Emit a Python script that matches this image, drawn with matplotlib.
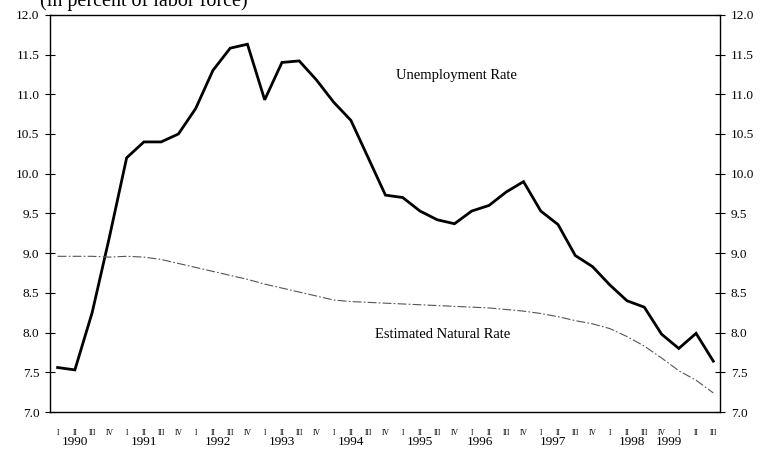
import numpy as np
import matplotlib
matplotlib.use('Agg')
import matplotlib.pyplot as plt

# quarterly data, 1990 Q1 .. 1999 Q3
years = [1990, 1991, 1992, 1993, 1994, 1995, 1996, 1997, 1998, 1999]
quarters = ['I', 'II', 'III', 'IV']
unemployment = [7.56, 7.53, 8.25, 9.2, 10.2, 10.4, 10.4, 10.5,
                10.82, 11.3, 11.58, 11.63, 10.93, 11.4, 11.42, 11.18,
                10.9, 10.67, 10.2, 9.73, 9.7, 9.53, 9.42, 9.37,
                9.53, 9.6, 9.77, 9.9, 9.53, 9.36, 8.97, 8.83,
                8.6, 8.4, 8.32, 7.98, 7.8, 7.99, 7.64]
natural = [8.96, 8.96, 8.96, 8.95, 8.96, 8.95, 8.92, 8.87,
           8.82, 8.77, 8.72, 8.67, 8.61, 8.56, 8.51, 8.46,
           8.41, 8.39, 8.38, 8.37, 8.36, 8.35, 8.34, 8.33,
           8.32, 8.31, 8.29, 8.27, 8.24, 8.2, 8.15, 8.11,
           8.05, 7.95, 7.83, 7.68, 7.52, 7.4, 7.24]
# year label offsets (in quarters) from the first quarter of each year
year_offset = [1, 1, 1.3, 1, 1, 1, 0.5, 0.7, 1.3, -0.6]

plt.rcParams['font.family'] = ['Liberation Serif', 'DejaVu Serif']

n = len(unemployment)
x = np.arange(n)

fig = plt.figure(figsize=(7.67, 4.49), dpi=100)
ax = fig.add_axes([0.065, 0.0824, 0.874, 0.8846])

ax.plot(x, unemployment, color='black', lw=2.0, solid_joinstyle='miter')
ax.plot(x, natural, color='#555555', lw=0.8, linestyle=(0, (8, 2, 1.5, 2)))

ax.set_xlim(-0.45, 38.4)
ax.set_ylim(7.0, 12.0)
yt = np.arange(7.0, 12.01, 0.5)
ax.set_yticks(yt)
ax.set_yticklabels(['%.1f' % v for v in yt])
ax.tick_params(axis='y', direction='inout', length=7, width=0.8, right=True,
               labelright=True, labelsize=9.5, pad=4)

qlabels = [quarters[i % 4] for i in range(n)]
ax.set_xticks(x)
ax.set_xticklabels(qlabels, fontsize=5.5)
ax.tick_params(axis='x', length=0, pad=12)

tr = ax.get_xaxis_transform()
for k, yr in enumerate(years):
    ax.text(4 * k + year_offset[k], -0.083, str(yr), transform=tr,
            ha='center', va='baseline', fontsize=9.5)

for s in ax.spines.values():
    s.set_linewidth(1.0)

ax.text(23.1, 11.24, 'Unemployment Rate', ha='center', va='center', fontsize=10.5)
ax.text(22.3, 7.97, 'Estimated Natural Rate', ha='center', va='center', fontsize=10.5)

fig.text(0.052, 0.987, '(in percent of labor force)', ha='left', va='baseline',
         fontsize=14.5)

fig.savefig('out.png', dpi=100)
